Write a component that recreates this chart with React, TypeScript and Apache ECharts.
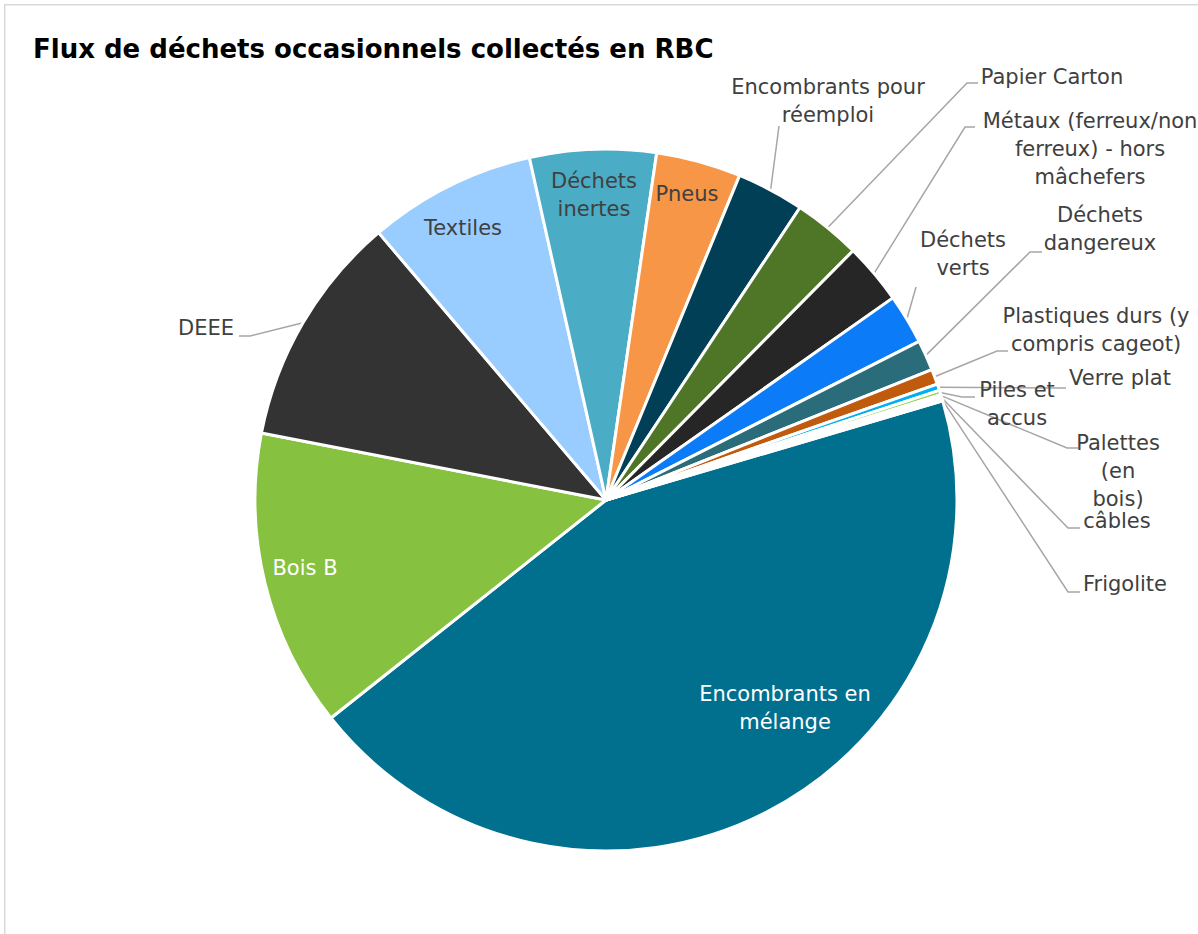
import React, { useEffect, useRef } from "react";
import * as echarts from "echarts";

const title = "Flux de déchets occasionnels collectés en RBC";

const categories = [
  "Encombrants en mélange",
  "Bois B",
  "DEEE",
  "Textiles",
  "Déchets inertes",
  "Pneus",
  "Encombrants pour réemploi",
  "Papier Carton",
  "Métaux (ferreux/non ferreux) - hors mâchefers",
  "Déchets verts",
  "Déchets dangereux",
  "Plastiques durs (y compris cageot)",
  "Verre plat",
  "Piles et accus",
  "Palettes (en bois)",
  "câbles",
  "Frigolite",
];

// share of the total (%)
const shares = [43.8, 13.7, 10.7, 7.7, 5.8, 3.9, 3.1, 3.1, 2.8, 2.3, 1.4, 0.7, 0.3, 0.2, 0.1, 0.1, 0.1];

// label texts as wrapped in the reference
const labelTexts = [
  "Encombrants en\nmélange",
  "Bois B",
  "DEEE",
  "Textiles",
  "Déchets\ninertes",
  "Pneus",
  "Encombrants pour\nréemploi",
  "Papier Carton",
  "Métaux (ferreux/non\nferreux) - hors\nmâchefers",
  "Déchets\nverts",
  "Déchets\ndangereux",
  "Plastiques durs (y\ncompris cageot)",
  "Verre plat",
  "Piles et\naccus",
  "Palettes\n(en\nbois)",
  "câbles",
  "Frigolite",
];

const colors = [
  "#01708F", "#86C240", "#333333", "#99CCFF", "#4BACC6", "#F79646", "#003F56",
  "#4F7526", "#262626", "#0B7BF8", "#2A6C79", "#C05A0C", "#00B0F0", "#92D050",
  "#E7E6E6", "#F2F2F2", "#DDEBF7",
];

// label placement (layout only): centre of text block, and leader-line bend / end points
type LabelPlace = { x: number; y: number; inside?: boolean; white?: boolean; bend?: number[]; end?: number[] };
const labelPlaces: LabelPlace[] = [
  { x: 785, y: 708, inside: true, white: true },
  { x: 305, y: 568, inside: true, white: true },
  { x: 206, y: 328, bend: [250, 336], end: [239, 336] },
  { x: 463, y: 228, inside: true },
  { x: 594, y: 195, inside: true },
  { x: 687, y: 194, inside: true },
  { x: 828, y: 101, bend: [779, 126], end: [779, 126] },
  { x: 1052, y: 77, bend: [967, 83], end: [978, 83] },
  { x: 1090, y: 149, bend: [965, 127], end: [975, 127] },
  { x: 963, y: 254, bend: [916, 287], end: [916, 287] },
  { x: 1100, y: 229, bend: [1030, 252], end: [1042, 252] },
  { x: 1096, y: 330, bend: [997, 351], end: [1008, 351] },
  { x: 1120, y: 378, bend: [1056, 388], end: [1066, 388] },
  { x: 1017, y: 404, bend: [962, 397], end: [975, 397] },
  { x: 1118, y: 471, bend: [1067, 448], end: [1078, 448] },
  { x: 1117, y: 521, bend: [1068, 528], end: [1080, 528] },
  { x: 1125, y: 584, bend: [1068, 592], end: [1080, 592] },
];

const FONT = "DejaVu Sans";

export default function App() {
  const ref = useRef<HTMLDivElement>(null);

  useEffect(() => {
    if (!ref.current) return;
    const chart = echarts.init(ref.current, undefined, { renderer: "svg" });

    const data = categories.map((name, i) => {
      const p = labelPlaces[i];
      return {
        name,
        value: shares[i],
        itemStyle: { color: colors[i] },
        label: p.inside
          ? { position: "inside", color: p.white ? "#FFFFFF" : "#404040" }
          : { position: "outside" },
        labelLine: { show: !p.inside },
      };
    });

    chart.setOption({
      animation: false,
      backgroundColor: "#FFFFFF",
      title: {
        text: title,
        left: 28,
        top: 31,
        textStyle: { fontFamily: FONT, fontSize: 26, fontWeight: "bold", color: "#000000" },
      },
      graphic: [
        {
          type: "rect",
          silent: true,
          z: -10,
          shape: { x: 4.75, y: 4.75, width: 1400, height: 1200 },
          style: { fill: "none", stroke: "#D9D9D9", lineWidth: 1.5 },
        },
      ],
      series: [
        {
          type: "pie",
          center: [606, 500],
          radius: 351,
          startAngle: 16.4,
          clockwise: true,
          avoidLabelOverlap: false,
          minAngle: 0,
          itemStyle: { borderColor: "#FFFFFF", borderWidth: 3 },
          emphasis: { disabled: true },
          label: {
            show: true,
            fontFamily: FONT,
            fontSize: 21,
            lineHeight: 28,
            color: "#404040",
            align: "center",
            formatter: (p: any) => labelTexts[p.dataIndex],
          },
          labelLine: {
            show: true,
            length: 10,
            length2: 10,
            lineStyle: { color: "#A6A6A6", width: 1.5 },
          },
          labelLayout: (params: any) => {
            const p = labelPlaces[params.dataIndex];
            const out: any = { x: p.x, y: p.y, align: "center", verticalAlign: "middle" };
            if (!p.inside && params.labelLinePoints && p.bend && p.end) {
              const start = params.labelLinePoints[0];
              out.labelLinePoints = [start, p.bend, p.end];
            }
            return out;
          },
          data,
        },
      ],
    });

    return () => chart.dispose();
  }, []);

  return (
    <div
      ref={ref}
      style={{ position: "fixed", left: 0, top: 0, width: 1198, height: 934 }}
    />
  );
}
